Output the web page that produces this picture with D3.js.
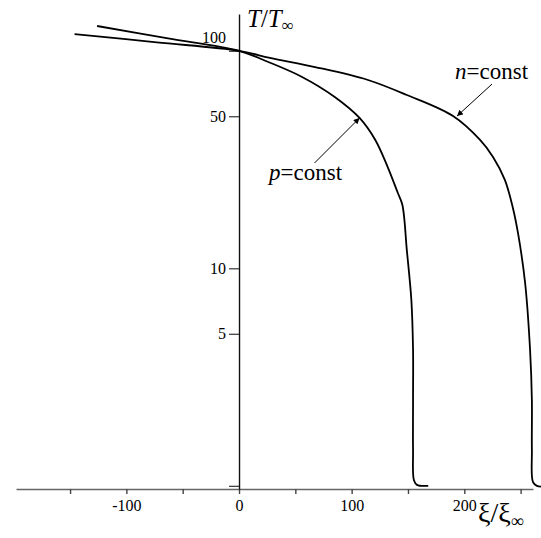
<!DOCTYPE html>
<html>
<head>
<meta charset="utf-8">
<script src="https://cdn.jsdelivr.net/npm/d3@7"></script>
<style>
  html, body { margin: 0; padding: 0; background: #fff; }
</style>
</head>
<body>
<div id="chart"></div>
<script>
// T/T_inf versus xi/xi_inf, two heating regimes
const pXi = [-126, -63, 0, 26, 56, 85, 107, 121, 132, 141, 145, 149, 153, 154.5, 154.5, 154.5, 155.3, 158, 168];
const pT  = [130, 114, 100, 88.8, 75.8, 61.3, 49.1, 38.9, 29.2, 22.2, 19.6, 12.1, 7.15, 4.21, 2.48, 1.46, 1.06, 1.01, 1.0];

const nXi = [-146, -73, 0, 27.5, 67.5, 114.5, 149, 190, 214, 225.5, 236, 243, 247.7, 254, 258.4, 260, 260, 261, 264.5, 270];
const nT  = [119.4, 109.3, 100, 92.7, 84.2, 73.4, 62.6, 50.1, 38.9, 32.5, 25.5, 19.1, 14.5, 8.56, 4.21, 2.48, 1.46, 1.04, 1.0, 0.99];

const xTicks = [-150, -100, -50, 0, 50, 100, 150, 200, 250];
const xLabels = [-100, 0, 100, 200];
const yTicks = [1, 5, 10, 50, 100];
const yLabels = [5, 10, 50, 100];

const width = 541, height = 538;
const serif = '"Liberation Serif", "Times New Roman", Times, serif';

const svg = d3.select('#chart')
  .append('svg')
  .attr('width', width)
  .attr('height', height);

const x = d3.scaleLinear().domain([-198, 261]).range([16, 533]);
const y = d3.scaleLog().domain([0.967, 147.6]).range([489, 14]);

// arrow marker
svg.append('defs').append('marker')
  .attr('id', 'arrow')
  .attr('viewBox', '0 0 10 10')
  .attr('refX', 10)
  .attr('refY', 5)
  .attr('markerWidth', 7)
  .attr('markerHeight', 6)
  .attr('markerUnits', 'userSpaceOnUse')
  .attr('orient', 'auto')
  .append('path')
  .attr('d', 'M0,0 L10,5 L0,10 Z')
  .attr('fill', '#000');

// x axis
const xAxis = d3.axisBottom(x)
  .tickValues(xTicks)
  .tickSize(5)
  .tickSizeOuter(0)
  .tickPadding(6)
  .tickFormat(d => xLabels.includes(d) ? d : '');

const gx = svg.append('g')
  .attr('transform', `translate(0, ${y.range()[0]})`)
  .call(xAxis)
  .attr('font-family', serif);
gx.select('.domain').attr('stroke', '#666').attr('stroke-width', 1.6);
gx.selectAll('.tick line').attr('stroke', '#444').attr('stroke-width', 1.4);
gx.selectAll('.tick text').attr('font-size', 16).attr('fill', '#000');

// y axis
const yAxis = d3.axisLeft(y)
  .tickValues(yTicks)
  .tickSize(10)
  .tickSizeOuter(0)
  .tickPadding(3)
  .tickFormat(d => yLabels.includes(d) ? d : '');

const gy = svg.append('g')
  .attr('transform', `translate(${x(0)}, 0)`)
  .call(yAxis)
  .attr('font-family', serif);
gy.select('.domain').attr('stroke', '#111').attr('stroke-width', 1.4);
gy.selectAll('.tick line').attr('stroke', '#333').attr('stroke-width', 1.2);
gy.selectAll('.tick text').attr('font-size', 16).attr('fill', '#000');
// the 100 label sits above the crossing curves
gy.selectAll('.tick').filter(d => d === 100).select('text').attr('y', -13);

// curves
const line = d3.line()
  .x(d => x(d[0]))
  .y(d => y(d[1]))
  .curve(d3.curveCatmullRom.alpha(0.5));

const series = [
  d3.zip(pXi, pT),
  d3.zip(nXi, nT)
];

svg.selectAll('.curve')
  .data(series)
  .enter()
  .append('path')
  .attr('class', 'curve')
  .attr('d', line)
  .attr('fill', 'none')
  .attr('stroke', '#000')
  .attr('stroke-width', 1.8)
  .attr('stroke-linejoin', 'round');

// annotations
const pTip = [x(pXi[6]), y(pT[6])];
const nTip = [x(nXi[7]) + 4, y(nT[7])];

svg.append('line')
  .attr('x1', pTip[0] - 45).attr('y1', pTip[1] + 45)
  .attr('x2', pTip[0]).attr('y2', pTip[1])
  .attr('stroke', '#000').attr('stroke-width', 1)
  .attr('marker-end', 'url(#arrow)');

svg.append('line')
  .attr('x1', nTip[0] + 35).attr('y1', nTip[1] - 32)
  .attr('x2', nTip[0]).attr('y2', nTip[1])
  .attr('stroke', '#000').attr('stroke-width', 1)
  .attr('marker-end', 'url(#arrow)');

const pLabel = svg.append('text')
  .attr('x', 269).attr('y', 180)
  .attr('font-family', serif)
  .attr('font-size', 23);
pLabel.append('tspan').attr('font-style', 'italic').text('p');
pLabel.append('tspan').text('=const');

const nLabel = svg.append('text')
  .attr('x', 455).attr('y', 79)
  .attr('font-family', serif)
  .attr('font-size', 23);
nLabel.append('tspan').attr('font-style', 'italic').text('n');
nLabel.append('tspan').text('=const');

// axis titles
const yTitle = svg.append('text')
  .attr('x', 247).attr('y', 27)
  .attr('font-family', serif)
  .attr('font-size', 25);
yTitle.append('tspan').attr('font-style', 'italic').text('T');
yTitle.append('tspan').text('/');
yTitle.append('tspan').attr('font-style', 'italic').text('T');
yTitle.append('tspan').attr('font-size', 17).attr('dy', 4).text('∞');

const xTitle = svg.append('text')
  .attr('x', 478).attr('y', 522)
  .attr('font-family', serif)
  .attr('font-size', 28);
xTitle.append('tspan').text('ξ/ξ');
xTitle.append('tspan').attr('font-size', 18).attr('dy', 5).text('∞');
</script>
</body>
</html>
